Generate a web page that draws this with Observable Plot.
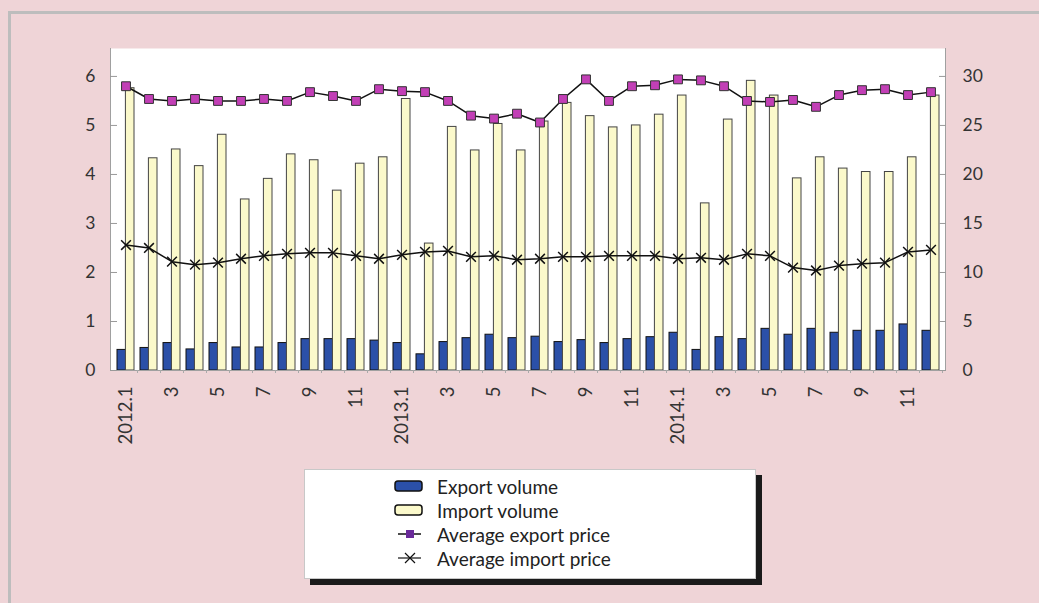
<!DOCTYPE html>
<html><head><meta charset="utf-8">
<script src="https://cdn.jsdelivr.net/npm/d3@7"></script>
<script src="https://cdn.jsdelivr.net/npm/@observablehq/plot@0.6"></script>
<style>
html,body{margin:0;padding:0;background:#efd4d7;}
#wrap{position:relative;width:1039px;height:603px;overflow:hidden;font-family:Lato,"Open Sans",sans-serif;}
#border{position:absolute;left:8px;top:11px;width:1100px;height:700px;border-left:3px solid #bdbdbd;border-top:3px solid #bdbdbd;}
#chart{position:absolute;left:0;top:0;}
#legend{position:absolute;left:304px;top:469px;width:450px;height:108px;background:#fff;border:1px solid #c8c8c8;box-shadow:6px 6px 0 #1a1a1a;}
.row{position:absolute;left:88px;height:24px;display:flex;align-items:center;font-size:19px;color:#222;}
.row svg{width:32px;height:24px;margin-right:12px;}
</style></head>
<body><div id="wrap"><div id="border"></div><div id="chart"></div>
<div id="legend">
 <div class="row" style="top:4px"><svg><rect x="2" y="7" width="27" height="10" rx="3" fill="#2b50a8" stroke="#111" stroke-width="1.5"/></svg>Export volume</div>
 <div class="row" style="top:28px"><svg><rect x="2" y="7" width="27" height="10" rx="3" fill="#fbf9cb" stroke="#111" stroke-width="1.5"/></svg>Import volume</div>
 <div class="row" style="top:52px"><svg><line x1="5" y1="12" x2="28" y2="12" stroke="#111" stroke-width="1.5"/><rect x="13" y="8" width="8" height="8" fill="#6a2a9a"/></svg>Average export price</div>
 <div class="row" style="top:76px"><svg><line x1="5" y1="12" x2="28" y2="12" stroke="#111" stroke-width="1.2"/><path d="M12,7L22,17M22,7L12,17" stroke="#111" stroke-width="1.2"/></svg>Average import price</div>
</div>
</div>
<script>
const periods = ["2012.1","2012.2","2012.3","2012.4","2012.5","2012.6","2012.7","2012.8","2012.9","2012.10","2012.11","2012.12",
"2013.1","2013.2","2013.3","2013.4","2013.5","2013.6","2013.7","2013.8","2013.9","2013.10","2013.11","2013.12",
"2014.1","2014.2","2014.3","2014.4","2014.5","2014.6","2014.7","2014.8","2014.9","2014.10","2014.11","2014.12"];
const tickLabels = ["2012.1","","3","","5","","7","","9","","11","",
"2013.1","","3","","5","","7","","9","","11","",
"2014.1","","3","","5","","7","","9","","11",""];
// left axis (volume)
const exportVolume = [0.42,0.46,0.56,0.43,0.56,0.47,0.47,0.56,0.64,0.64,0.64,0.61,
0.56,0.33,0.58,0.66,0.73,0.66,0.69,0.58,0.62,0.56,0.64,0.68,
0.77,0.42,0.68,0.64,0.85,0.73,0.85,0.77,0.81,0.81,0.94,0.81];
const importVolume = [5.76,4.33,4.51,4.17,4.81,3.49,3.91,4.41,4.29,3.67,4.22,4.35,
5.54,2.59,4.97,4.49,5.03,4.49,5.08,5.46,5.19,4.96,5.0,5.22,
5.61,3.41,5.12,5.91,5.61,3.92,4.35,4.12,4.05,4.05,4.35,5.61];
// right axis (price)
const exportPrice = [29.0,27.7,27.5,27.7,27.5,27.5,27.7,27.5,28.4,28.0,27.5,28.7,
28.5,28.4,27.5,26.0,25.7,26.2,25.3,27.7,29.7,27.5,29.0,29.1,
29.7,29.6,29.0,27.5,27.4,27.6,26.9,28.1,28.6,28.7,28.1,28.4];
const importPrice = [12.8,12.5,11.1,10.8,11.0,11.4,11.7,11.9,12.0,12.0,11.7,11.4,
11.8,12.1,12.2,11.6,11.7,11.3,11.4,11.6,11.6,11.7,11.7,11.7,
11.4,11.5,11.3,11.9,11.7,10.5,10.2,10.7,10.9,11.0,12.1,12.3];
const leftTicks = [0,1,2,3,4,5,6];
const rightTicks = [0,5,10,15,20,25,30];
const ratio = 5; // right axis units per left axis unit

const table = periods.map((p,i)=>({p, ex:exportVolume[i], im:importVolume[i], ep:exportPrice[i], ip:importPrice[i]}));
const labelled = periods.filter((p,i)=>tickLabels[i] !== "");

const chart = Plot.plot({
  width:1039, height:460, marginLeft:110, marginRight:94, marginTop:48, marginBottom:90,
  style:{background:"transparent", fontFamily:"Lato, 'Open Sans', sans-serif", fontSize:"17.5px", color:"#333", overflow:"visible"},
  x:{domain:periods, padding:0.27, label:null},
  y:{domain:[0,6.57], label:null},
  marks:[
    Plot.frame({fill:"white"}),
    Plot.frame({anchor:"left", stroke:"#a0a0a0"}),
    Plot.frame({anchor:"right", stroke:"#a0a0a0"}),
    Plot.barY(table,{x:"p", y:"ex", fill:"#2b50a8", stroke:"#111", strokeWidth:1, insetRight:8.4}),
    Plot.barY(table,{x:"p", y:"im", fill:"#fbf9cb", stroke:"#444", strokeWidth:1, insetLeft:8.4}),
    Plot.ruleY([0],{stroke:"#a0a0a0"}),
    Plot.axisX(periods,{tickSize:3, tickFormat:()=>"", dx:11.5, stroke:"#aaa", label:null}),
    Plot.line(table,{x:"p", y:d=>d.ip/ratio, stroke:"#111", strokeWidth:1.5}),
    Plot.dot(table,{x:"p", y:d=>d.ip/ratio, symbol:"times", r:4.5, stroke:"#111", strokeWidth:1.5}),
    Plot.line(table,{x:"p", y:d=>d.ep/ratio, stroke:"#111", strokeWidth:1.5}),
    Plot.dot(table,{x:"p", y:d=>d.ep/ratio, symbol:"square", r:5, fill:"#c23fb6", stroke:"#333", strokeWidth:1}),
    Plot.axisY(leftTicks,{anchor:"left", tickSize:-7, tickPadding:22, stroke:"#999", label:null}),
    Plot.axisY(rightTicks.map(v=>v/ratio),{anchor:"right", tickSize:-7, tickPadding:24, stroke:"#999", tickFormat:d=>String(Math.round(d*ratio)), label:null}),
    Plot.axisX(labelled,{tickRotate:-90, tickSize:0, tickPadding:16, fontSize:18.5, tickFormat:p=>tickLabels[periods.indexOf(p)], label:null})
  ]
});
document.getElementById("chart").appendChild(chart);
</script>
</body></html>
